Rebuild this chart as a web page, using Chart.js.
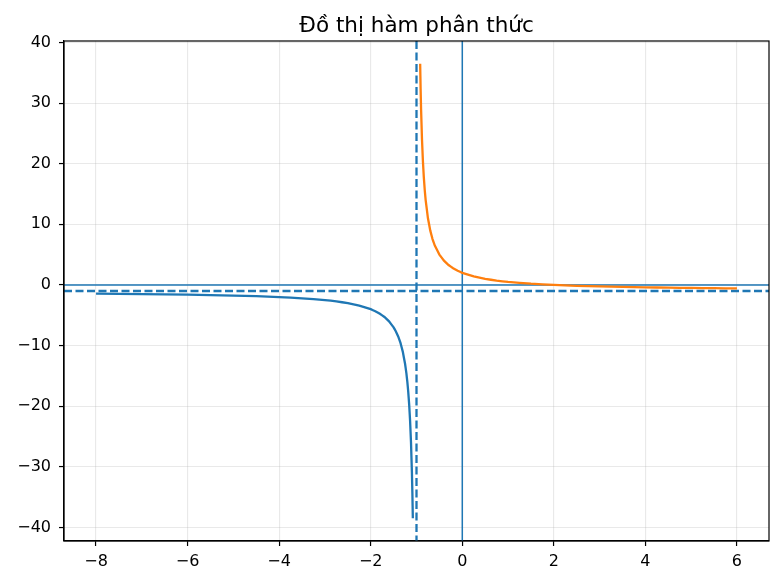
<!DOCTYPE html>
<html>
<head>
<meta charset="utf-8">
<script src="https://cdn.jsdelivr.net/npm/chart.js@4.4.1/dist/chart.umd.min.js"></script>
<style>
html,body{margin:0;padding:0;background:#fff;}
#wrap{width:781px;height:585px;}
</style>
</head>
<body>
<div id="wrap"><canvas id="c" width="781" height="585"></canvas></div>
<script>
const titleText = "Đồ thị hàm phân thức";

// Left branch (x < -1)
const leftX = [-8, -7, -6, -5, -4.5, -4, -3.5, -3, -2.75, -2.5, -2.25, -2, -1.9, -1.8, -1.7, -1.6, -1.5, -1.45, -1.4, -1.35, -1.3, -1.25, -1.22, -1.2, -1.18, -1.16, -1.14, -1.12, -1.1, -1.09, -1.08];
const leftY = [-1.43, -1.5, -1.6, -1.75, -1.86, -2, -2.2, -2.5, -2.71, -3, -3.4, -4, -4.33, -4.75, -5.29, -6, -7, -7.67, -8.5, -9.57, -11, -13, -14.64, -16, -17.67, -19.75, -22.43, -26, -31, -34.33, -38.5];

// Right branch (x > -1)
const rightX = [-0.92, -0.91, -0.9, -0.88, -0.86, -0.84, -0.82, -0.8, -0.75, -0.7, -0.65, -0.6, -0.5, -0.4, -0.3, -0.2, -0.1, 0, 0.25, 0.5, 0.75, 1, 1.5, 2, 2.5, 3, 3.5, 4, 4.5, 5, 5.5, 6];
const rightY = [36.5, 32.33, 29, 24, 20.43, 17.75, 15.67, 14, 11, 9, 7.57, 6.5, 5, 4, 3.29, 2.75, 2.33, 2, 1.4, 1, 0.71, 0.5, 0.2, 0, -0.14, -0.25, -0.33, -0.4, -0.45, -0.5, -0.54, -0.57];

// Reference lines
const vAsymptote = [-1];
const hAsymptote = [-1];
const vAxisLine = [0];
const hAxisLine = [0];

const xTicks = [-8, -6, -4, -2, 0, 2, 4, 6];
const yTicks = [-40, -30, -20, -10, 0, 10, 20, 30, 40];
const xRange = [-8.7, 6.7];
const yRange = [-42.25, 40.25];

const BLUE = '#1f77b4';
const ORANGE = '#ff7f0e';
const FONT = "'DejaVu Sans', sans-serif";

function pts(xs, ys){ return xs.map((x,i)=>({x:x, y:ys[i]})); }
function fmt(v){ return (v < 0 ? '\u2212' + Math.abs(v) : String(v)); }

const refLines = {
  id:'refLines',
  beforeDatasetsDraw(chart){
    const {ctx, chartArea:a, scales:{x, y}} = chart;
    ctx.save();
    ctx.beginPath(); ctx.rect(a.left, a.top, a.right-a.left, a.bottom-a.top); ctx.clip();
    ctx.strokeStyle = BLUE;
    ctx.lineWidth = 1.5; ctx.setLineDash([]);
    vAxisLine.forEach(v=>{ const px=x.getPixelForValue(v); ctx.beginPath(); ctx.moveTo(px,a.top); ctx.lineTo(px,a.bottom); ctx.stroke(); });
    hAxisLine.forEach(v=>{ const py=y.getPixelForValue(v); ctx.beginPath(); ctx.moveTo(a.left,py); ctx.lineTo(a.right,py); ctx.stroke(); });
    ctx.lineWidth = 2.3; ctx.setLineDash([8,3.5]);
    vAsymptote.forEach(v=>{ const px=x.getPixelForValue(v); ctx.beginPath(); ctx.moveTo(px,a.top); ctx.lineTo(px,a.bottom); ctx.stroke(); });
    hAsymptote.forEach(v=>{ const py=y.getPixelForValue(v); ctx.beginPath(); ctx.moveTo(a.left,py); ctx.lineTo(a.right,py); ctx.stroke(); });
    ctx.restore();
  },
  afterDraw(chart){
    const {ctx, chartArea:a} = chart;
    ctx.save();
    ctx.strokeStyle = '#000'; ctx.lineWidth = 1.2; ctx.setLineDash([]);
    ctx.strokeRect(a.left, a.top, a.right-a.left, a.bottom-a.top);
    ctx.fillStyle = '#000';
    ctx.font = "21.5px " + FONT;
    ctx.textAlign = 'center'; ctx.textBaseline = 'alphabetic';
    ctx.fillText(titleText, (a.left+a.right)/2, 32);
    ctx.restore();
  }
};

new Chart(document.getElementById('c'), {
  type:'scatter',
  data:{
    datasets:[
      {data:pts(leftX,leftY), showLine:true, borderColor:BLUE, borderWidth:2.3, pointRadius:0, tension:0.01, fill:false},
      {data:pts(rightX,rightY), showLine:true, borderColor:ORANGE, borderWidth:2.3, pointRadius:0, tension:0.01, fill:false}
    ]
  },
  options:{
    responsive:false, animation:false, devicePixelRatio:1,
    layout:{padding:{top:41, right:12, left:0, bottom:0}},
    plugins:{legend:{display:false}, title:{display:false}, tooltip:{enabled:false}},
    scales:{
      x:{
        type:'linear', min:xRange[0], max:xRange[1],
        afterBuildTicks(s){ s.ticks = xTicks.map(v=>({value:v})); },
        afterFit(s){ s.height = 44; },
        grid:{color:'rgba(176,176,176,0.28)', lineWidth:1.1, tickColor:'#000', tickLength:5, tickWidth:1.2, drawTicks:true},
        border:{display:true, color:'#000', width:1.2},
        ticks:{color:'#000', font:{family:FONT, size:16}, padding:6, maxRotation:0, autoSkip:false, callback:(v)=>fmt(v)}
      },
      y:{
        type:'linear', min:yRange[0], max:yRange[1],
        afterBuildTicks(s){ s.ticks = yTicks.map(v=>({value:v})); },
        afterFit(s){ s.width = 64; },
        grid:{color:'rgba(176,176,176,0.28)', lineWidth:1.1, tickColor:'#000', tickLength:5, tickWidth:1.2, drawTicks:true},
        border:{display:true, color:'#000', width:1.2},
        ticks:{color:'#000', font:{family:FONT, size:16}, padding:8, autoSkip:false, callback:(v)=>fmt(v)}
      }
    }
  },
  plugins:[refLines]
});
</script>
</body>
</html>
